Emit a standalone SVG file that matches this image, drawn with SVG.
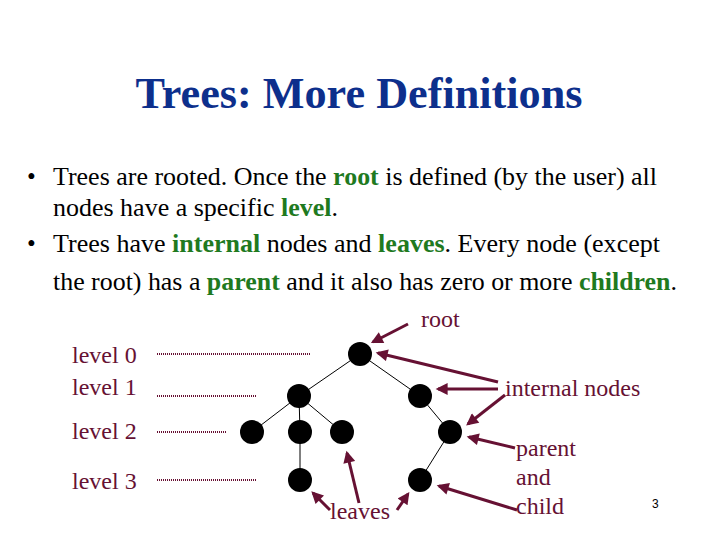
<svg xmlns="http://www.w3.org/2000/svg" width="720" height="540" viewBox="0 0 720 540" font-family="'Liberation Serif', 'Times New Roman', serif">
<defs>
<style>
text, tspan{font-family:"Liberation Serif","Times New Roman",serif;}
.title{font-size:44px;font-weight:bold;fill:#0d2f8c;}
.body{font-size:25px;fill:#000;}
.g{fill:#1f7a1f;font-weight:bold;}
.lab{font-size:24px;fill:#661133;}
.node{fill:#000;}
.edge{stroke:#000;stroke-width:1;}
.dot{stroke:#661133;stroke-width:2;stroke-dasharray:1 1;}
.arr{stroke:#661133;stroke-width:3;marker-end:url(#ah);}
</style>
<marker id="ah" viewBox="0 0 10 10" refX="8" refY="5" markerWidth="4.5" markerHeight="4" orient="auto" markerUnits="strokeWidth">
<path d="M0,0 L10,5 L0,10 z" fill="#661133"/>
</marker>
</defs>
<rect width="720" height="540" fill="#fff"/>
<text class="title" x="359" y="108" text-anchor="middle" textLength="447" lengthAdjust="spacingAndGlyphs">Trees: More Definitions</text>
<g class="body" style="font-family:'Liberation Serif',serif">
<text x="27" y="185" style="font-family:'Liberation Serif',serif">•</text>
<text x="53" y="185" textLength="604" lengthAdjust="spacingAndGlyphs" style="font-family:'Liberation Serif',serif">Trees are rooted. Once the <tspan class="g">root</tspan> is defined (by the user) all</text>
<text x="53" y="216" textLength="285" lengthAdjust="spacingAndGlyphs" style="font-family:'Liberation Serif',serif">nodes have a specific <tspan class="g">level</tspan>.</text>
<text x="27" y="252" style="font-family:'Liberation Serif',serif">•</text>
<text x="53" y="252" textLength="607" lengthAdjust="spacingAndGlyphs" style="font-family:'Liberation Serif',serif">Trees have <tspan class="g">internal</tspan> nodes and <tspan class="g">leaves</tspan>. Every node (except</text>
<text x="53" y="290" textLength="624" lengthAdjust="spacingAndGlyphs" style="font-family:'Liberation Serif',serif">the root) has a <tspan class="g">parent</tspan> and it also has zero or more <tspan class="g">children</tspan>.</text>
</g>
<g id="levels" class="lab">
<text x="72" y="363">level 0</text>
<text x="72" y="395">level 1</text>
<text x="72" y="439">level 2</text>
<text x="72" y="489">level 3</text>
</g>
<g id="dots">
<line class="dot" x1="157" y1="354" x2="310" y2="354"/>
<line class="dot" x1="157" y1="396" x2="257" y2="396"/>
<line class="dot" x1="157" y1="432" x2="227" y2="432"/>
<line class="dot" x1="157" y1="480" x2="257" y2="480"/>
</g>
<g id="connectors">
<line class="edge" x1="360" y1="354" x2="299" y2="396"/>
<line class="edge" x1="360" y1="354" x2="420" y2="396"/>
<line class="edge" x1="299" y1="396" x2="252" y2="432"/>
<line class="edge" x1="299" y1="396" x2="300" y2="432"/>
<line class="edge" x1="299" y1="396" x2="342" y2="432"/>
<line class="edge" x1="300" y1="432" x2="300" y2="480"/>
<line class="edge" x1="420" y1="396" x2="450" y2="432"/>
<line class="edge" x1="450" y1="432" x2="420" y2="480"/>
</g>
<g id="n0"><circle class="node" cx="360" cy="354" r="12"/></g>
<g id="n1"><circle class="node" cx="299" cy="396" r="12"/></g>
<g id="n2"><circle class="node" cx="420" cy="396" r="12"/></g>
<g id="n3"><circle class="node" cx="252" cy="432" r="12"/></g>
<g id="n4"><circle class="node" cx="300" cy="432" r="12"/></g>
<g id="n5"><circle class="node" cx="342" cy="432" r="12"/></g>
<g id="n6"><circle class="node" cx="450" cy="432" r="12"/></g>
<g id="n7"><circle class="node" cx="300" cy="480" r="12"/></g>
<g id="n8"><circle class="node" cx="420" cy="480" r="12"/></g>
<g id="annotations" class="lab">
<text x="421" y="327">root</text>
<text x="505" y="396">internal nodes</text>
<text x="516" y="456">parent</text>
<text x="516" y="485">and</text>
<text x="516" y="514">child</text>
<text x="330" y="519">leaves</text>
</g>
<g id="arrows">
<line class="arr" x1="408" y1="324" x2="373" y2="342"/>
<line class="arr" x1="498" y1="382" x2="378" y2="353"/>
<line class="arr" x1="498" y1="389" x2="438" y2="389"/>
<line class="arr" x1="505" y1="395" x2="468" y2="424"/>
<line class="arr" x1="515" y1="448" x2="469" y2="437"/>
<line class="arr" x1="517" y1="510" x2="439" y2="486"/>
<line class="arr" x1="330" y1="510" x2="313" y2="493"/>
<line class="arr" x1="359" y1="503" x2="347" y2="453"/>
<line class="arr" x1="397" y1="510" x2="408" y2="494"/>
</g>
<text x="652" y="508" style="font-family:'Liberation Sans',Arial,sans-serif" font-size="12" fill="#000">3</text>
</svg>
